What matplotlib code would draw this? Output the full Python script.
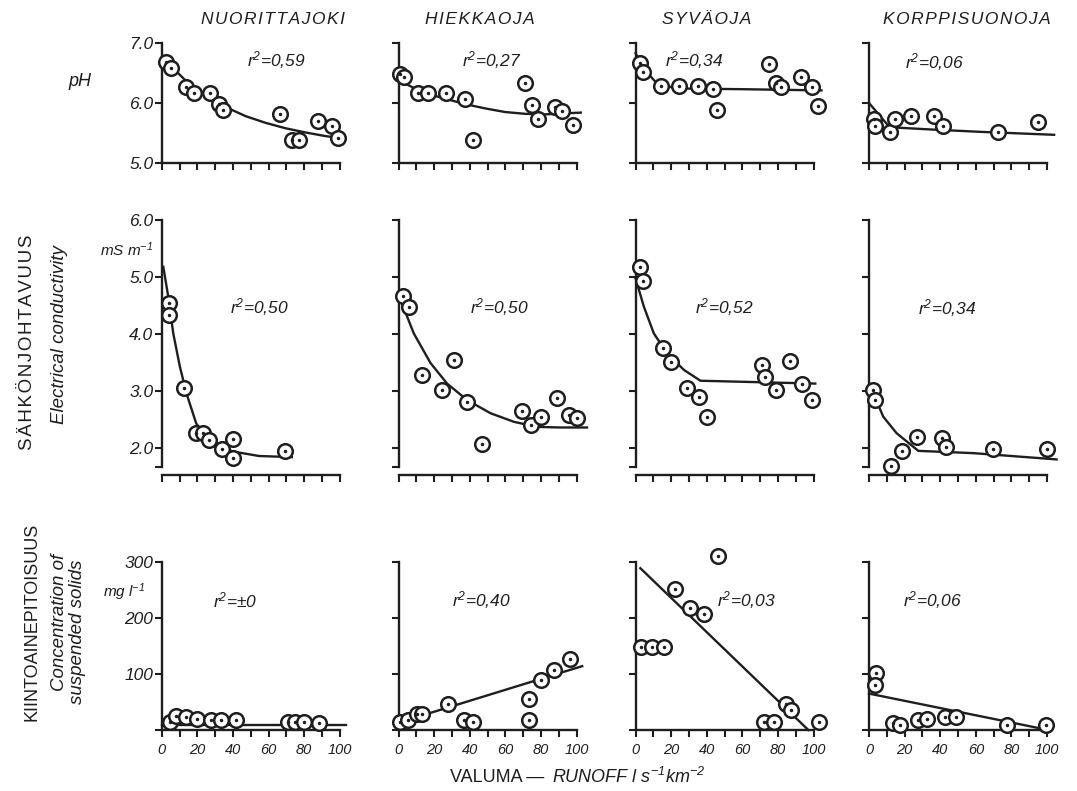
import matplotlib.pyplot as plt

plt.rcParams['font.family'] = ['Liberation Sans', 'DejaVu Sans']
plt.rcParams['mathtext.fontset'] = 'custom'
plt.rcParams['mathtext.rm'] = 'Liberation Sans'
plt.rcParams['mathtext.it'] = 'Liberation Sans:italic'
plt.rcParams['mathtext.default'] = 'regular'

INK = '#1e1e1e'

rivers = ['NUORITTAJOKI', 'HIEKKAOJA', 'SYVÄOJA', 'KORPPISUONOJA']

# --- pH ---
nuo_ph_x = [2.4, 5.0, 13.5, 18.1, 27.2, 32.4, 34.6, 66.7, 73.1, 77.2, 87.9, 95.7, 99.0]
nuo_ph_y = [6.69, 6.59, 6.26, 6.16, 6.16, 5.98, 5.88, 5.82, 5.38, 5.38, 5.70, 5.61, 5.42]
nuo_ph_fit_x = [0, 6.5, 13.9, 21.3, 28.7, 36.1, 47.2, 58.3, 69.4, 80.6, 91.7, 99.1]
nuo_ph_fit_y = [6.76, 6.58, 6.36, 6.21, 6.05, 5.93, 5.78, 5.67, 5.58, 5.51, 5.45, 5.42]

hie_ph_x = [0.9, 3.3, 10.7, 16.3, 26.8, 37.2, 41.7, 70.9, 75.0, 78.3, 88.0, 91.7, 98.3]
hie_ph_y = [6.48, 6.43, 6.17, 6.17, 6.17, 6.06, 5.39, 6.33, 5.97, 5.73, 5.93, 5.87, 5.63]
hie_ph_fit_x = [0, 8.0, 15.4, 26.5, 37.6, 48.7, 59.8, 70.9, 82.0, 102.4]
hie_ph_fit_y = [6.38, 6.26, 6.16, 6.07, 5.98, 5.91, 5.85, 5.82, 5.81, 5.84]

syv_ph_x = [2.4, 4.3, 14.6, 24.6, 35.3, 43.4, 45.7, 74.8, 79.0, 81.5, 92.8, 99.0, 102.8]
syv_ph_y = [6.66, 6.51, 6.28, 6.28, 6.28, 6.24, 5.89, 6.65, 6.33, 6.26, 6.44, 6.27, 5.95]
syv_ph_fit_x = [0, 5.3, 11.0, 18.6, 29.8, 60.0, 104.5]
syv_ph_fit_y = [6.83, 6.55, 6.36, 6.27, 6.24, 6.23, 6.21]

kor_ph_x = [2.8, 3.2, 11.6, 14.4, 23.7, 36.7, 41.4, 72.7, 95.1]
kor_ph_y = [5.74, 5.61, 5.51, 5.74, 5.78, 5.78, 5.62, 5.51, 5.68]
kor_ph_fit_x = [0, 10.6, 15.3, 34.0, 62.0, 104.0]
kor_ph_fit_y = [6.0, 5.63, 5.59, 5.56, 5.52, 5.47]

# --- sähkönjohtavuus, mS/m ---
nuo_ec_x = [4.2, 4.2, 12.6, 19.1, 23.1, 26.8, 33.9, 39.8, 40.2, 69.1]
nuo_ec_y = [4.54, 4.33, 3.05, 2.27, 2.27, 2.14, 1.98, 2.15, 1.82, 1.94]
nuo_ec_fit_x = [0.9, 3.7, 6.5, 10.2, 13.9, 19.4, 25.0, 32.4, 39.8, 54.6, 73.1]
nuo_ec_fit_y = [5.18, 4.65, 4.01, 3.43, 2.96, 2.43, 2.20, 2.05, 1.94, 1.86, 1.84]

hie_ec_x = [2.6, 5.8, 13.3, 24.5, 31.4, 38.6, 47.0, 69.5, 74.5, 80.1, 89.1, 95.6, 100.3]
hie_ec_y = [4.67, 4.48, 3.28, 3.02, 3.54, 2.81, 2.07, 2.65, 2.40, 2.55, 2.87, 2.58, 2.52]
hie_ec_fit_x = [1.1, 8.6, 18.0, 27.3, 38.6, 51.7, 64.8, 77.9, 91.0, 105.9]
hie_ec_fit_y = [4.60, 4.01, 3.49, 3.13, 2.84, 2.61, 2.46, 2.37, 2.36, 2.36]

syv_ec_x = [2.4, 4.3, 15.6, 19.7, 28.7, 35.6, 40.3, 71.2, 72.5, 79.2, 86.7, 93.6, 99.3]
syv_ec_y = [5.18, 4.93, 3.76, 3.51, 3.06, 2.90, 2.54, 3.46, 3.25, 3.02, 3.53, 3.12, 2.84]
syv_ec_fit_x = [0, 4.7, 10.3, 17.8, 27.2, 36.5, 101.0]
syv_ec_fit_y = [4.98, 4.48, 4.01, 3.66, 3.37, 3.18, 3.13]

kor_ec_x = [2.4, 3.4, 12.2, 18.4, 26.8, 40.8, 43.3, 69.5, 100.2]
kor_ec_y = [3.02, 2.84, 1.68, 1.94, 2.19, 2.17, 2.02, 1.98, 1.99]
kor_ec_fit_x = [2.4, 8.0, 15.5, 27.7, 58.6, 105.4]
kor_ec_fit_y = [2.96, 2.55, 2.26, 1.95, 1.91, 1.80]

# --- kiintoaine, mg/l ---
nuo_ss_x = [4.6, 8.3, 13.9, 19.8, 27.8, 33.3, 42.0, 71.0, 75.0, 80.2, 88.3]
nuo_ss_y = [15, 25, 23, 19, 18, 18, 18, 15, 15, 15, 12]
nuo_ss_fit_x = [0, 103.5]
nuo_ss_fit_y = [9, 9]

hie_ss_x = [0.8, 5.6, 10.6, 13.1, 28.0, 36.7, 41.9, 73.4, 73.4, 79.9, 87.6, 96.3]
hie_ss_y = [15, 18, 28, 28, 46, 18, 15, 55, 18, 90, 108, 126]
hie_ss_fit_x = [0, 103.2]
hie_ss_fit_y = [13, 114]

syv_ss_x = [3.3, 9.0, 16.1, 22.4, 30.5, 38.7, 46.4, 72.2, 78.0, 84.3, 87.6, 102.9]
syv_ss_y = [149, 149, 149, 251, 217, 207, 310, 15, 15, 46, 36, 15]
syv_ss_fit_x = [2.7, 97.1]
syv_ss_fit_y = [289, 0]

kor_ss_x = [3.9, 3.4, 13.7, 17.4, 27.7, 32.8, 42.7, 48.9, 77.7, 99.4]
kor_ss_y = [101, 80, 12, 9, 18, 20, 24, 24, 9, 9]
kor_ss_fit_x = [0, 100.7]
kor_ss_fit_y = [65, 0]

ph_r2 = ['0,59', '0,27', '0,34', '0,06']
ec_r2 = ['0,50', '0,50', '0,52', '0,34']
ss_r2 = ['±0', '0,40', '0,03', '0,06']

panels = [
    [(nuo_ph_x, nuo_ph_y, nuo_ph_fit_x, nuo_ph_fit_y),
     (hie_ph_x, hie_ph_y, hie_ph_fit_x, hie_ph_fit_y),
     (syv_ph_x, syv_ph_y, syv_ph_fit_x, syv_ph_fit_y),
     (kor_ph_x, kor_ph_y, kor_ph_fit_x, kor_ph_fit_y)],
    [(nuo_ec_x, nuo_ec_y, nuo_ec_fit_x, nuo_ec_fit_y),
     (hie_ec_x, hie_ec_y, hie_ec_fit_x, hie_ec_fit_y),
     (syv_ec_x, syv_ec_y, syv_ec_fit_x, syv_ec_fit_y),
     (kor_ec_x, kor_ec_y, kor_ec_fit_x, kor_ec_fit_y)],
    [(nuo_ss_x, nuo_ss_y, nuo_ss_fit_x, nuo_ss_fit_y),
     (hie_ss_x, hie_ss_y, hie_ss_fit_x, hie_ss_fit_y),
     (syv_ss_x, syv_ss_y, syv_ss_fit_x, syv_ss_fit_y),
     (kor_ss_x, kor_ss_y, kor_ss_fit_x, kor_ss_fit_y)],
]
r2_labels = [ph_r2, ec_r2, ss_r2]

# asettelu pikseleinä
W, H = 1077, 791
fig = plt.figure(figsize=(W / 100, H / 100), dpi=100)
fig.patch.set_facecolor('white')

col_x0 = [161.7, 398.5, 635.5, 869.0]
px_unit = 1.78
row_px = [(43, 163), (220, 474.8), (562, 730)]
row_ylim = [(5.0, 7.0), (1.53, 6.0), (0, 300)]
row_spine = [(5.0, 7.0), (1.67, 6.0), (0, 300)]
row_ticks = [[5, 6, 7], [1.67, 2, 3, 4, 5, 6], [0, 100, 200, 300]]
row_ticklabels = [['5.0', '6.0', '7.0'], ['', '2.0', '3.0', '4.0', '5.0', '6.0'],
                  ['', '100', '200', '300']]
r2_pos = [[(247, 60), (462, 60), (665, 60), (905, 62)],
          [(230, 307), (470, 307), (695, 307), (918, 308)],
          [(213, 600), (452, 600), (717, 600), (903, 600)]]


def ftext(x, y, s, **kw):
    kw.setdefault('color', INK)
    return fig.text(x / W, 1 - y / H, s, **kw)


for r in range(3):
    yt, yb = row_px[r]
    for c in range(4):
        x0 = col_x0[c]
        ax = fig.add_axes([x0 / W, 1 - yb / H, 106 * px_unit / W, (yb - yt) / H])
        ax.set_xlim(0, 106)
        ax.set_ylim(*row_ylim[r])
        ax.patch.set_alpha(0)
        for s in ['top', 'right']:
            ax.spines[s].set_visible(False)
        for s in ['left', 'bottom']:
            ax.spines[s].set_linewidth(1.7)
            ax.spines[s].set_color(INK)
        ax.spines['left'].set_bounds(*row_spine[r])
        ax.spines['bottom'].set_bounds(0, 100)

        ax.set_xticks(range(0, 101, 10))
        if r == 2:
            ax.set_xticklabels([str(v) if v % 20 == 0 else '' for v in range(0, 101, 10)],
                               fontstyle='italic', fontsize=10.5)
        else:
            ax.set_xticklabels([])
        ax.set_yticks(row_ticks[r])
        if c == 0:
            ax.set_yticklabels(row_ticklabels[r], fontstyle='italic', fontsize=12.5)
        else:
            ax.set_yticklabels([])
        ax.tick_params(direction='out', length=5, width=1.5, color=INK, labelcolor=INK)
        ax.tick_params(axis='y', pad=1)
        ax.tick_params(axis='x', pad=4)

        px, py, fx, fy = panels[r][c]
        ax.plot(fx, fy, color=INK, lw=1.7, clip_on=False, zorder=2)
        ax.plot(px, py, 'o', ms=10.5, mfc='white', mec=INK, mew=1.8,
                clip_on=False, zorder=3)
        ax.plot(px, py, '.', ms=3, color=INK, clip_on=False, zorder=4)

        tx, ty = r2_pos[r][c]
        ftext(tx, ty, 'r$^2$=' + r2_labels[r][c], fontsize=12.5, fontstyle='italic',
              ha='left', va='center')

# otsikot
title_x = [273, 480, 707, 967]
for name, tx in zip(rivers, title_x):
    ftext(tx, 20, '\u200a'.join(name), fontsize=12.5, fontstyle='italic',
          ha='center', va='center')

# yksiköt ja akselien nimet
ftext(80, 82, 'pH', fontsize=13, fontstyle='italic', ha='center', va='center')
ftext(100, 250, 'mS m$^{-1}$', fontsize=11, fontstyle='italic', ha='left', va='center')
ftext(103, 592, 'mg l$^{-1}$', fontsize=11, fontstyle='italic', ha='left', va='center')

ftext(28, 342, '\u200a'.join('SÄHKÖNJOHTAVUUS'), fontsize=13.5, rotation=90,
      ha='center', va='center')
ftext(59, 335, 'Electrical conductivity', fontsize=13.5, fontstyle='italic',
      rotation=90, ha='center', va='center')
ftext(32, 622, 'KIINTOAINEPITOISUUS', fontsize=13, rotation=90,
      ha='center', va='center')
ftext(60, 622, 'Concentration of', fontsize=13.5, fontstyle='italic',
      rotation=90, ha='center', va='center')
ftext(78, 632, 'suspended solids', fontsize=13.5, fontstyle='italic',
      rotation=90, ha='center', va='center')

ftext(450, 777, 'VALUMA\u2009\u2014', fontsize=13, ha='left', va='center')
ftext(552, 777, 'RUNOFF l s$^{-1}$km$^{-2}$', fontsize=13, fontstyle='italic',
      ha='left', va='center')

fig.savefig('out.png', dpi=100, facecolor='white')
